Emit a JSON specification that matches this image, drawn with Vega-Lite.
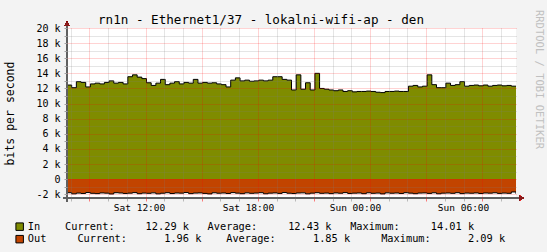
{
  "$schema": "https://vega.github.io/schema/vega-lite/v6.json",
  "width": 449,
  "height": 170,
  "autosize": {"type": "none"},
  "padding": {"left": 67, "top": 28, "right": 31, "bottom": 54},
  "background": "#f3f3f3",
  "config": {"view": {"fill": "white", "stroke": null}, "font": "DejaVu Sans Mono"},
  "title": {"text": "rn1n - Ethernet1/37 - lokalni-wifi-ap - den", "font": "DejaVu Sans Mono", "fontSize": 12.6, "fontWeight": "normal", "color": "black", "anchor": "middle", "frame": "group", "dx": -30.5, "dy": 30, "offset": 3, "baseline": "alphabetic"},
  "datasets": {
    "traffic": [
      {"t":7.8,"s":"In","v":12.45},{"t":8.05,"s":"In","v":12.1},{"t":8.3,"s":"In","v":12.9},{"t":8.55,"s":"In","v":12.8},{"t":8.8,"s":"In","v":12.2},{"t":9.05,"s":"In","v":12.6},{"t":9.3,"s":"In","v":12.7},{"t":9.55,"s":"In","v":12.6},{"t":9.8,"s":"In","v":12.8},{"t":10.05,"s":"In","v":13.0},
      {"t":10.3,"s":"In","v":12.7},{"t":10.55,"s":"In","v":12.8},{"t":10.8,"s":"In","v":12.6},{"t":11.05,"s":"In","v":13.55},{"t":11.3,"s":"In","v":13.8},{"t":11.55,"s":"In","v":13.5},{"t":11.8,"s":"In","v":13.3},{"t":12.05,"s":"In","v":12.75},{"t":12.3,"s":"In","v":12.4},{"t":12.55,"s":"In","v":12.7},
      {"t":12.8,"s":"In","v":13.2},{"t":13.05,"s":"In","v":12.5},{"t":13.3,"s":"In","v":12.7},{"t":13.55,"s":"In","v":12.9},{"t":13.8,"s":"In","v":12.6},{"t":14.05,"s":"In","v":12.8},{"t":14.3,"s":"In","v":12.7},{"t":14.55,"s":"In","v":13.2},{"t":14.8,"s":"In","v":12.7},{"t":15.05,"s":"In","v":12.8},
      {"t":15.3,"s":"In","v":12.7},{"t":15.55,"s":"In","v":12.75},{"t":15.8,"s":"In","v":12.6},{"t":16.05,"s":"In","v":12.5},{"t":16.3,"s":"In","v":12.2},{"t":16.55,"s":"In","v":13.1},{"t":16.8,"s":"In","v":13.4},{"t":17.05,"s":"In","v":13.0},{"t":17.3,"s":"In","v":13.1},{"t":17.55,"s":"In","v":12.95},
      {"t":17.8,"s":"In","v":13.0},{"t":18.05,"s":"In","v":13.1},{"t":18.3,"s":"In","v":13.0},{"t":18.55,"s":"In","v":13.1},{"t":18.8,"s":"In","v":13.55},{"t":19.05,"s":"In","v":13.55},{"t":19.3,"s":"In","v":13.2},{"t":19.55,"s":"In","v":13.1},{"t":19.8,"s":"In","v":11.8},{"t":20.05,"s":"In","v":13.8},
      {"t":20.3,"s":"In","v":11.9},{"t":20.55,"s":"In","v":12.75},{"t":20.8,"s":"In","v":11.8},{"t":21.05,"s":"In","v":14.0},{"t":21.3,"s":"In","v":12.0},{"t":21.55,"s":"In","v":11.9},{"t":21.8,"s":"In","v":11.8},{"t":22.05,"s":"In","v":11.7},{"t":22.3,"s":"In","v":11.8},{"t":22.55,"s":"In","v":11.6},
      {"t":22.8,"s":"In","v":11.7},{"t":23.05,"s":"In","v":11.55},{"t":23.3,"s":"In","v":11.6},{"t":23.55,"s":"In","v":11.6},{"t":23.8,"s":"In","v":11.65},{"t":24.05,"s":"In","v":11.6},{"t":24.3,"s":"In","v":11.5},{"t":24.55,"s":"In","v":11.45},{"t":24.8,"s":"In","v":11.6},{"t":25.05,"s":"In","v":11.6},
      {"t":25.3,"s":"In","v":11.65},{"t":25.55,"s":"In","v":11.6},{"t":25.8,"s":"In","v":11.6},{"t":26.05,"s":"In","v":12.3},{"t":26.3,"s":"In","v":12.4},{"t":26.55,"s":"In","v":12.2},{"t":26.8,"s":"In","v":12.3},{"t":27.05,"s":"In","v":13.8},{"t":27.3,"s":"In","v":12.5},{"t":27.55,"s":"In","v":12.1},
      {"t":27.8,"s":"In","v":12.1},{"t":28.05,"s":"In","v":12.7},{"t":28.3,"s":"In","v":12.4},{"t":28.55,"s":"In","v":12.5},{"t":28.8,"s":"In","v":12.9},{"t":29.05,"s":"In","v":12.3},{"t":29.3,"s":"In","v":12.4},{"t":29.55,"s":"In","v":12.45},{"t":29.8,"s":"In","v":12.35},{"t":30.05,"s":"In","v":12.45},
      {"t":30.3,"s":"In","v":12.3},{"t":30.55,"s":"In","v":12.4},{"t":30.8,"s":"In","v":12.45},{"t":31.05,"s":"In","v":12.35},{"t":31.3,"s":"In","v":12.4},{"t":31.55,"s":"In","v":12.3},{"t":31.8,"s":"In","v":12.29},
      {"t":7.8,"s":"Out","v":-1.80},{"t":8.05,"s":"Out","v":-1.95},{"t":8.3,"s":"Out","v":-1.85},{"t":8.55,"s":"Out","v":-1.90},{"t":8.8,"s":"Out","v":-1.78},{"t":9.05,"s":"Out","v":-1.88},{"t":9.3,"s":"Out","v":-1.92},{"t":9.55,"s":"Out","v":-1.83},{"t":9.8,"s":"Out","v":-1.86},{"t":10.05,"s":"Out","v":-1.97},
      {"t":10.3,"s":"Out","v":-1.80},{"t":10.55,"s":"Out","v":-1.84},{"t":10.8,"s":"Out","v":-1.90},{"t":11.05,"s":"Out","v":-1.86},{"t":11.3,"s":"Out","v":-1.79},{"t":11.55,"s":"Out","v":-1.93},{"t":11.8,"s":"Out","v":-1.85},{"t":12.05,"s":"Out","v":-1.88},{"t":12.3,"s":"Out","v":-1.82},{"t":12.55,"s":"Out","v":-1.95},
      {"t":12.8,"s":"Out","v":-1.87},{"t":13.05,"s":"Out","v":-1.80},{"t":13.3,"s":"Out","v":-1.91},{"t":13.55,"s":"Out","v":-1.84},{"t":13.8,"s":"Out","v":-1.86},{"t":14.05,"s":"Out","v":-1.78},{"t":14.3,"s":"Out","v":-1.92},{"t":14.55,"s":"Out","v":-1.85},{"t":14.8,"s":"Out","v":-1.83},{"t":15.05,"s":"Out","v":-1.89},
      {"t":15.3,"s":"Out","v":-1.96},{"t":15.55,"s":"Out","v":-1.81},{"t":15.8,"s":"Out","v":-1.87},{"t":16.05,"s":"Out","v":-1.84},{"t":16.3,"s":"Out","v":-1.90},{"t":16.55,"s":"Out","v":-1.79},{"t":16.8,"s":"Out","v":-1.86},{"t":17.05,"s":"Out","v":-1.93},{"t":17.3,"s":"Out","v":-1.82},{"t":17.55,"s":"Out","v":-1.88},
      {"t":17.8,"s":"Out","v":-1.85},{"t":18.05,"s":"Out","v":-1.80},{"t":18.3,"s":"Out","v":-1.94},{"t":18.55,"s":"Out","v":-1.86},{"t":18.8,"s":"Out","v":-1.83},{"t":19.05,"s":"Out","v":-1.89},{"t":19.3,"s":"Out","v":-1.78},{"t":19.55,"s":"Out","v":-1.87},{"t":19.8,"s":"Out","v":-1.91},{"t":20.05,"s":"Out","v":-1.84},
      {"t":20.3,"s":"Out","v":-1.82},{"t":20.55,"s":"Out","v":-1.95},{"t":20.8,"s":"Out","v":-1.86},{"t":21.05,"s":"Out","v":-1.80},{"t":21.3,"s":"Out","v":-1.88},{"t":21.55,"s":"Out","v":-1.85},{"t":21.8,"s":"Out","v":-1.92},{"t":22.05,"s":"Out","v":-1.83},{"t":22.3,"s":"Out","v":-1.87},{"t":22.55,"s":"Out","v":-1.79},
      {"t":22.8,"s":"Out","v":-1.90},{"t":23.05,"s":"Out","v":-1.86},{"t":23.3,"s":"Out","v":-1.84},{"t":23.55,"s":"Out","v":-1.93},{"t":23.8,"s":"Out","v":-1.81},{"t":24.05,"s":"Out","v":-1.88},{"t":24.3,"s":"Out","v":-1.85},{"t":24.55,"s":"Out","v":-1.96},{"t":24.8,"s":"Out","v":-1.82},{"t":25.05,"s":"Out","v":-1.87},
      {"t":25.3,"s":"Out","v":-1.84},{"t":25.55,"s":"Out","v":-1.90},{"t":25.8,"s":"Out","v":-1.80},{"t":26.05,"s":"Out","v":-1.86},{"t":26.3,"s":"Out","v":-1.93},{"t":26.55,"s":"Out","v":-1.85},{"t":26.8,"s":"Out","v":-1.83},{"t":27.05,"s":"Out","v":-1.89},{"t":27.3,"s":"Out","v":-1.81},{"t":27.55,"s":"Out","v":-1.94},
      {"t":27.8,"s":"Out","v":-1.86},{"t":28.05,"s":"Out","v":-1.84},{"t":28.3,"s":"Out","v":-1.88},{"t":28.55,"s":"Out","v":-1.80},{"t":28.8,"s":"Out","v":-1.92},{"t":29.05,"s":"Out","v":-1.85},{"t":29.3,"s":"Out","v":-1.87},{"t":29.55,"s":"Out","v":-1.83},{"t":29.8,"s":"Out","v":-1.90},{"t":30.05,"s":"Out","v":-1.84},
      {"t":30.3,"s":"Out","v":-1.86},{"t":30.55,"s":"Out","v":-1.81},{"t":30.8,"s":"Out","v":-1.89},{"t":31.05,"s":"Out","v":-1.85},{"t":31.3,"s":"Out","v":-1.88},{"t":31.55,"s":"Out","v":-1.70},{"t":31.8,"s":"Out","v":-1.96}
    ]
  },
  "data": {"name": "traffic"},
  "layer": [
    {
      "mark": {"type": "area", "interpolate": "step-after", "clip": true},
      "encoding": {
        "x": {"field": "t", "type": "quantitative", "scale": {"domain": [7.8, 31.8], "nice": false, "zero": false},
          "axis": {"values": [8,9,10,11,12,13,14,15,16,17,18,19,20,21,22,23,24,25,26,27,28,29,30,31], "labels": false, "domain": false, "title": null, "zindex": 1,
            "grid": true, "gridDash": [1, 1],
            "gridColor": {"condition": {"test": "datum.value % 3 === 0", "value": "rgba(255,0,0,0.35)"}, "value": "rgba(128,128,128,0.4)"},
            "ticks": true, "tickSize": 3,
            "tickColor": {"condition": {"test": "datum.value % 3 === 0", "value": "rgba(255,0,0,0.5)"}, "value": "rgba(128,128,128,0.5)"}}},
        "y": {"field": "v", "type": "quantitative", "stack": null, "scale": {"domain": [-2.5, 20], "nice": false, "zero": false},
          "axis": {"values": [-2,-1,0,1,2,3,4,5,6,7,8,9,10,11,12,13,14,15,16,17,18,19,20], "labelExpr": "datum.value % 2 === 0 ? (datum.value === 0 ? '0' : datum.value + ' k') : ''",
            "labelFont": "DejaVu Sans Mono", "labelFontSize": 10, "labelColor": "black", "labelPadding": 4, "labelOverlap": false,
            "domain": false, "zindex": 1, "tickSize": 3, "tickColor": "#a0a0a0",
            "grid": true, "gridDash": [1, 1],
            "gridColor": {"condition": {"test": "datum.value % 2 === 0", "value": "rgba(255,0,0,0.35)"}, "value": "rgba(128,128,128,0.4)"},
            "title": "bits per second", "titleFont": "DejaVu Sans Mono", "titleFontSize": 11.5, "titleFontWeight": "normal", "titleColor": "black",
            "titleX": -56.5, "titleY": 85, "titleAngle": -90, "titleAlign": "center", "titleBaseline": "middle"}},
        "color": {"field": "s", "type": "nominal", "scale": {"domain": ["In", "Out"], "range": ["#7f8c00", "#c24400"]},
          "legend": {"orient": "none", "legendX": -52.5, "legendY": 193.5, "title": null, "direction": "vertical", "padding": 0,
            "symbolType": "square", "symbolSize": 56, "symbolStrokeColor": "black", "symbolStrokeWidth": 1, "symbolOpacity": 1,
            "labelFont": "DejaVu Sans Mono", "labelFontSize": 10.3, "labelColor": "black", "labelOffset": 3, "labelLimit": 1000, "rowPadding": 0.5,
            "labelExpr": "datum.label === 'In' ? 'In\u00a0\u00a0\u00a0\u00a0Current:\u00a0\u00a0\u00a0\u00a0\u00a012.29\u00a0k\u00a0\u00a0\u00a0Average:\u00a0\u00a0\u00a0\u00a0\u00a012.43\u00a0k\u00a0\u00a0\u00a0Maximum:\u00a0\u00a0\u00a0\u00a0\u00a014.01\u00a0k' : 'Out\u00a0\u00a0\u00a0\u00a0\u00a0Current:\u00a0\u00a0\u00a0\u00a0\u00a0\u00a01.96\u00a0k\u00a0\u00a0\u00a0\u00a0Average:\u00a0\u00a0\u00a0\u00a0\u00a0\u00a01.85\u00a0k\u00a0\u00a0\u00a0\u00a0\u00a0Maximum:\u00a0\u00a0\u00a0\u00a0\u00a0\u00a02.09\u00a0k'"}}
      }
    },
    {
      "mark": {"type": "line", "interpolate": "step-after", "color": "black", "strokeWidth": 1, "clip": true},
      "encoding": {
        "x": {"field": "t", "type": "quantitative",
          "axis": {"orient": "bottom", "values": [11.65, 17.475, 23.19, 28.97], "labelExpr": "datum.value < 12 ? 'Sat 12:00' : datum.value < 18 ? 'Sat 18:00' : datum.value < 24 ? 'Sun 00:00' : 'Sun 06:00'",
            "labelFont": "DejaVu Sans Mono", "labelFontSize": 9.5, "labelColor": "black", "labelPadding": 4, "labelOverlap": false,
            "ticks": false, "domain": false, "grid": false, "title": null}},
        "y": {"field": "v", "type": "quantitative",
          "axis": {"orient": "right", "labels": false, "ticks": false, "domain": false, "grid": false,
            "title": "RRDTOOL / TOBI OETIKER", "titleFont": "DejaVu Sans Mono", "titleFontSize": 10.5, "titleFontWeight": "normal", "titleColor": "#c0c0c0",
            "titleAngle": 90, "titleX": 22, "titleY": 51, "titleAlign": "center", "titleBaseline": "middle"}},
        "detail": {"field": "s"}
      }
    },
    {
      "mark": {"type": "rule", "color": "#606060", "strokeWidth": 1, "clip": false},
      "encoding": {
        "x": {"datum": 7.8, "type": "quantitative", "axis": null},
        "y": {"datum": -2.95, "type": "quantitative", "axis": null},
        "y2": {"datum": 20.6}
      }
    },
    {
      "mark": {"type": "rule", "color": "#606060", "strokeWidth": 1, "clip": false},
      "encoding": {
        "x": {"datum": 7.6, "type": "quantitative", "axis": null},
        "x2": {"datum": 32.0},
        "y": {"datum": -2.5, "type": "quantitative", "axis": null}
      }
    },
    {
      "mark": {"type": "point", "shape": "triangle-up", "filled": true, "color": "#8b1a1a", "size": 24, "opacity": 1, "clip": false},
      "encoding": {
        "x": {"datum": 7.8, "type": "quantitative", "axis": null},
        "y": {"datum": 20.55, "type": "quantitative", "axis": null}
      }
    },
    {
      "mark": {"type": "point", "shape": "triangle-right", "filled": true, "color": "#8b1a1a", "size": 24, "opacity": 1, "clip": false},
      "encoding": {
        "x": {"datum": 32.09, "type": "quantitative", "axis": null},
        "y": {"datum": -2.5, "type": "quantitative", "axis": null}
      }
    }
  ],
  "resolve": {"axis": {"x": "independent", "y": "independent"}}
}
